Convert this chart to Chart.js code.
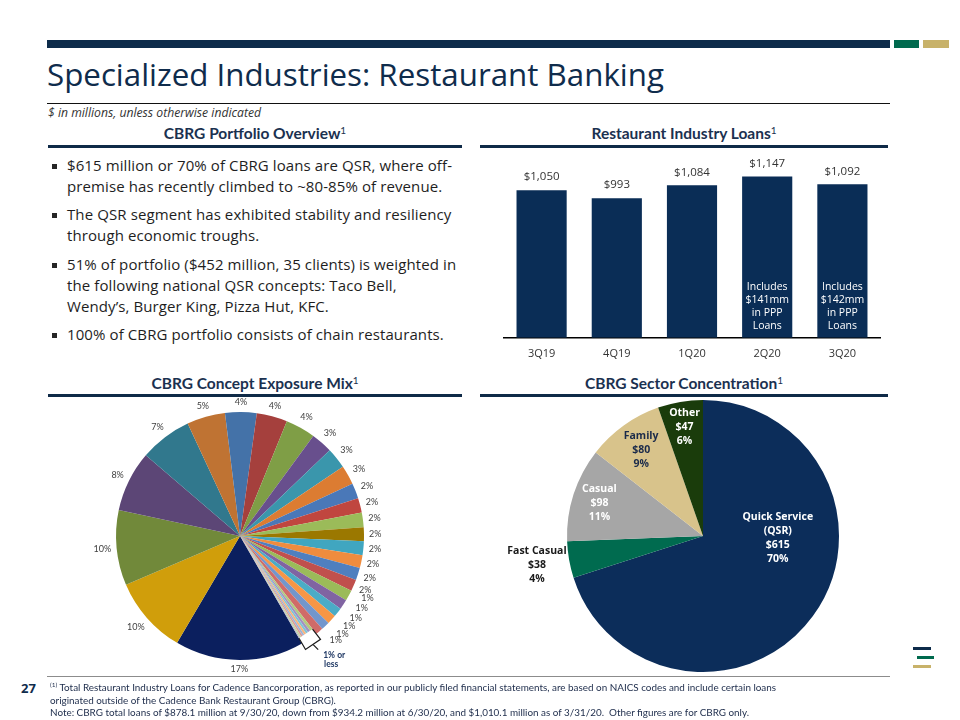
<!DOCTYPE html>
<html>
<head>
<meta charset="utf-8">
<script src="https://cdn.jsdelivr.net/npm/chart.js@4.4.0/dist/chart.umd.min.js"></script>
<style>
  body { margin: 0; width: 960px; height: 720px; position: relative; background: #fff; overflow: hidden; font-family: "Open Sans", sans-serif; }
  .abs { position: absolute; }
  .bar { position: absolute; }
  .title { left: 47px; top: 54px; font-size: 31.3px; line-height: 40px; color: #0f2c4c; white-space: nowrap; }
  .sub { left: 48px; top: 104px; font-size: 12.2px; font-style: italic; color: #333; }
  .hdr { font-family: Lato, sans-serif; font-weight: 700; font-size: 15.5px; line-height: 18px; color: #1b3150; text-align: center; white-space: nowrap; }
  .hdr sup { font-size: 10px; font-weight: 400; vertical-align: 5px; line-height: 0; }
  .hline { position: absolute; height: 3px; background: #0f2a47; }
  .para { left: 67px; font-size: 15px; letter-spacing: 0.1px; line-height: 21px; color: #1e1e1e; white-space: nowrap; }
  .sq { position: absolute; width: 5px; height: 5px; background: #262626; left: 52px; }
  .foot { left: 50px; top: 678.6px; font-family: Lato, sans-serif; font-size: 9.9px; line-height: 12.8px; color: #1c2b4a; white-space: nowrap; }
  canvas { position: absolute; }
</style>
</head>
<body>
<div class="bar" style="left:47px;top:40px;width:843px;height:8px;background:#0d2b4a"></div>
<div class="bar" style="left:894px;top:40px;width:25px;height:8px;background:#006a4e"></div>
<div class="bar" style="left:923px;top:40px;width:26px;height:8px;background:#c8b26a"></div>

<div class="abs title">Specialized Industries: Restaurant Banking</div>
<div class="bar" style="left:47px;top:103px;width:843px;height:1px;background:#111"></div>
<div class="abs sub">$ in millions, unless otherwise indicated</div>

<div class="abs hdr" style="left:48px;top:124px;width:414px">CBRG Portfolio Overview<sup>1</sup></div>
<div class="hline" style="left:48px;top:145px;width:414px"></div>
<div class="abs hdr" style="left:480px;top:124px;width:408px">Restaurant Industry Loans<sup>1</sup></div>
<div class="hline" style="left:480px;top:145px;width:408px"></div>

<div class="sq" style="top:164px"></div>
<div class="abs para" style="top:155px">$615 million or 70% of CBRG loans are QSR, where off-<br>premise has recently climbed to ~80-85% of revenue.</div>
<div class="sq" style="top:213px"></div>
<div class="abs para" style="top:204px">The QSR segment has exhibited stability and resiliency<br>through economic troughs.</div>
<div class="sq" style="top:263px"></div>
<div class="abs para" style="top:254px">51% of portfolio ($452 million, 35 clients) is weighted in<br>the following national QSR concepts: Taco Bell,<br>Wendy’s, Burger King, Pizza Hut, KFC.</div>
<div class="sq" style="top:333px"></div>
<div class="abs para" style="top:324px">100% of CBRG portfolio consists of chain restaurants.</div>

<div class="abs hdr" style="left:48px;top:374px;width:414px">CBRG Concept Exposure Mix<sup>1</sup></div>
<div class="hline" style="left:48px;top:394px;width:414px"></div>
<div class="abs hdr" style="left:480px;top:374px;width:408px">CBRG Sector Concentration<sup>1</sup></div>
<div class="hline" style="left:480px;top:394px;width:408px"></div>

<canvas id="loans" width="470" height="219" style="left:480px;top:150px"></canvas>
<canvas id="concepts" width="300" height="292" style="left:90px;top:390px"></canvas>
<canvas id="sectors" width="426" height="280" style="left:490px;top:396px"></canvas>

<div class="bar" style="left:47px;top:676px;width:843px;height:1px;background:#8c8c8c"></div>
<div class="abs" style="left:21px;top:679px;font-size:13px;font-weight:700;color:#0f2c4c">27</div>
<div class="abs foot"><sup style="font-size:6.5px">(1)</sup> Total Restaurant Industry Loans for Cadence Bancorporation, as reported in our publicly filed financial statements, are based on NAICS codes and include certain loans<br>originated outside of the Cadence Bank Restaurant Group (CBRG).<br>Note: CBRG total loans of $878.1 million at 9/30/20, down from $934.2 million at 6/30/20, and $1,010.1 million as of 3/31/20.&nbsp; Other figures are for CBRG only.</div>

<div class="bar" style="left:913px;top:647px;width:18px;height:3px;background:#0d2b4a"></div>
<div class="bar" style="left:917px;top:656px;width:17px;height:3px;background:#006a4e"></div>
<div class="bar" style="left:913px;top:665px;width:18px;height:3px;background:#c8b26a"></div>

<script>
// Restaurant Industry Loans ($mm)
const quarters = ["3Q19", "4Q19", "1Q20", "2Q20", "3Q20"];
const loanTotals = [1050, 993, 1084, 1147, 1092];
const pppNotes = ["", "", "", "Includes\n$141mm\nin PPP\nLoans", "Includes\n$142mm\nin PPP\nLoans"];

// Concept exposure mix (% of CBRG portfolio), largest first
const conceptShares = [16.8, 10.1, 9.8, 7.9, 6.8, 5.0, 4.1, 4.0, 3.9, 2.8, 2.7, 2.5,
  2.0, 1.9, 1.9, 1.8, 1.8, 1.7, 1.6, 1.5, 1.4, 1.3, 1.2, 1.2, 1.1, 1.0,
  0.4, 0.35, 0.3, 0.3, 0.25, 0.25, 0.2, 0.15];
const conceptColors = ["#0b1f5e", "#d09e0b", "#71893a", "#5c4676", "#31788d", "#bf7333",
  "#4472a8", "#a5403d", "#7f9e46", "#684f8d", "#3a96ac", "#dc7c32",
  "#4a78b8", "#c0463f", "#9bbb59", "#9b7800", "#40a6c0", "#ef8c3e",
  "#4f7fbf", "#c0504d", "#9bbb59", "#8064a2", "#4bacc6", "#f79646",
  "#7396cc", "#d06b68", "#b3cb7e", "#a391c2", "#7fc4d7", "#f9b47c",
  "#9bb4d8", "#dc9a98", "#c3d69b", "#b9b9c9"];

// Sector concentration ($mm)
const sectors = ["Quick Service\n(QSR)", "Fast Casual", "Casual", "Family", "Other"];
const sectorValues = [615, 38, 98, 80, 47];
const sectorPcts = ["70%", "4%", "11%", "9%", "6%"];
const sectorColors = ["#0c2d5a", "#006b4f", "#a6a6a6", "#d8c38b", "#1a3c0b"];
const sectorTextColors = ["#fff", "#1a1a1a", "#fff", "#1a2a4a", "#fff"];
// where each label sits: fraction of radius, and angle shift (deg) from slice middle
const sectorLabelRadius = [0.55, 1.24, 0.8, 0.78, 0.81];
const sectorLabelShift = [-34.5, 0, 0, 0, 0];

const NAVY = "#0a2d56";
const FONT = "'Open Sans', sans-serif";

const barLabels = {
  id: "barLabels",
  afterDatasetsDraw(chart) {
    const ctx = chart.ctx;
    const meta = chart.getDatasetMeta(0);
    ctx.save();
    ctx.textAlign = "center";
    ctx.textBaseline = "middle";
    meta.data.forEach((bar, i) => {
      ctx.fillStyle = "#333";
      ctx.font = "11.5px " + FONT;
      ctx.fillText("$" + loanTotals[i].toLocaleString("en-US"), bar.x, bar.y - 13);
      if (pppNotes[i]) {
        ctx.fillStyle = "#fff";
        ctx.font = "10.5px " + FONT;
        const lines = pppNotes[i].split("\n");
        lines.forEach((l, j) => {
          ctx.fillText(l, bar.x, chart.chartArea.bottom - 12 - (lines.length - 1 - j) * 13);
        });
      }
    });
    ctx.restore();
  }
};

new Chart(document.getElementById("loans"), {
  type: "bar",
  data: {
    labels: quarters,
    datasets: [{ data: loanTotals, backgroundColor: NAVY, barPercentage: 0.667, categoryPercentage: 1.0 }]
  },
  options: {
    responsive: false,
    animation: false,
    layout: { padding: { left: 24, right: 70, top: 12, bottom: 0 } },
    plugins: { legend: { display: false }, tooltip: { enabled: false } },
    scales: {
      y: { display: false, min: 0, max: 1250 },
      x: {
        grid: { display: false, drawTicks: false },
        border: { color: "#000", width: 1.5 },
        ticks: { color: "#333", font: { size: 11, family: FONT }, padding: 9 }
      }
    }
  },
  plugins: [barLabels]
});

const conceptLabels = {
  id: "conceptLabels",
  afterDatasetsDraw(chart) {
    const ctx = chart.ctx;
    const arcs = chart.getDatasetMeta(0).data;
    ctx.save();
    ctx.textAlign = "center";
    ctx.textBaseline = "middle";
    ctx.font = "9px Lato, sans-serif";
    ctx.fillStyle = "#404040";
    let tinyStart = null, tinyEnd = null, cx = 0, cy = 0, r = 0;
    arcs.forEach((a, i) => {
      const v = conceptShares[i];
      cx = a.x; cy = a.y; r = a.outerRadius;
      if (v < 0.5) {
        if (tinyStart === null) tinyStart = a.startAngle;
        tinyEnd = a.endAngle;
        return;
      }
      const txt = Math.round(v) + "%";
      // crowded 1% labels get pushed out and back a little, like the original
      const crowded = v < 1.5;
      const mid = (a.startAngle + a.endAngle) / 2 - (crowded ? 0.05 : 0);
      const c = Math.cos(mid), s = Math.sin(mid);
      const R = r + 5 + (crowded ? 5 : 0) + Math.abs(c) * ctx.measureText(txt).width / 2 + Math.abs(s) * 4.5;
      ctx.fillText(txt, cx + c * R, cy + s * R);
    });
    if (tinyStart !== null) {
      // white bracket over the smallest slices
      const r0 = r - 6, r1 = r + 7;
      const pt = (ang, rad) => [cx + Math.cos(ang) * rad, cy + Math.sin(ang) * rad];
      ctx.beginPath();
      ctx.moveTo(...pt(tinyStart, r0));
      ctx.lineTo(...pt(tinyStart, r1));
      ctx.lineTo(...pt(tinyEnd, r1));
      ctx.lineTo(...pt(tinyEnd, r0));
      ctx.closePath();
      ctx.fillStyle = "#fff";
      ctx.fill();
      ctx.beginPath();
      ctx.moveTo(...pt(tinyStart, r0));
      ctx.lineTo(...pt(tinyStart, r1));
      ctx.lineTo(...pt(tinyEnd, r1));
      ctx.lineTo(...pt(tinyEnd, r0));
      ctx.strokeStyle = "#1a1a1a";
      ctx.lineWidth = 1.2;
      ctx.stroke();
      const mid = (tinyStart + tinyEnd) / 2;
      const [px, py] = pt(mid, r1);
      ctx.beginPath();
      ctx.moveTo(px, py);
      ctx.lineTo(px + 5, py + 5);
      ctx.stroke();
      ctx.fillStyle = "#1f3864";
      ctx.font = "bold 8.5px Lato, sans-serif";
      ctx.fillText("1% or", px + 21, py + 11);
      ctx.fillText("less", px + 18, py + 20);
    }
    ctx.restore();
  }
};

new Chart(document.getElementById("concepts"), {
  type: "pie",
  data: {
    labels: conceptShares.map((v, i) => "c" + i),
    datasets: [{ data: conceptShares, backgroundColor: conceptColors, borderWidth: 0 }]
  },
  options: {
    responsive: false,
    animation: false,
    rotation: 150,
    layout: { padding: { left: 26, right: 26, top: 22, bottom: 22 } },
    plugins: { legend: { display: false }, tooltip: { enabled: false } }
  },
  plugins: [conceptLabels]
});

const sectorLabels = {
  id: "sectorLabels",
  afterDatasetsDraw(chart) {
    const ctx = chart.ctx;
    const arcs = chart.getDatasetMeta(0).data;
    ctx.save();
    ctx.textAlign = "center";
    ctx.textBaseline = "middle";
    ctx.font = "bold 10.5px 'Open Sans', sans-serif";
    arcs.forEach((a, i) => {
      const mid = (a.startAngle + a.endAngle) / 2 + sectorLabelShift[i] * Math.PI / 180;
      const R = a.outerRadius * sectorLabelRadius[i];
      const x = a.x + Math.cos(mid) * R, y = a.y + Math.sin(mid) * R;
      const lines = sectors[i].split("\n").concat(["$" + sectorValues[i], sectorPcts[i]]);
      ctx.fillStyle = sectorTextColors[i];
      lines.forEach((l, j) => {
        ctx.fillText(l, x, y + (j - (lines.length - 1) / 2) * 14);
      });
    });
    ctx.restore();
  }
};

new Chart(document.getElementById("sectors"), {
  type: "pie",
  data: {
    labels: sectors,
    datasets: [{ data: sectorValues, backgroundColor: sectorColors, borderWidth: 0 }]
  },
  options: {
    responsive: false,
    animation: false,
    rotation: 0,
    layout: { padding: { top: 4, bottom: 4 } },
    plugins: { legend: { display: false }, tooltip: { enabled: false } }
  },
  plugins: [sectorLabels]
});
</script>
</body>
</html>
